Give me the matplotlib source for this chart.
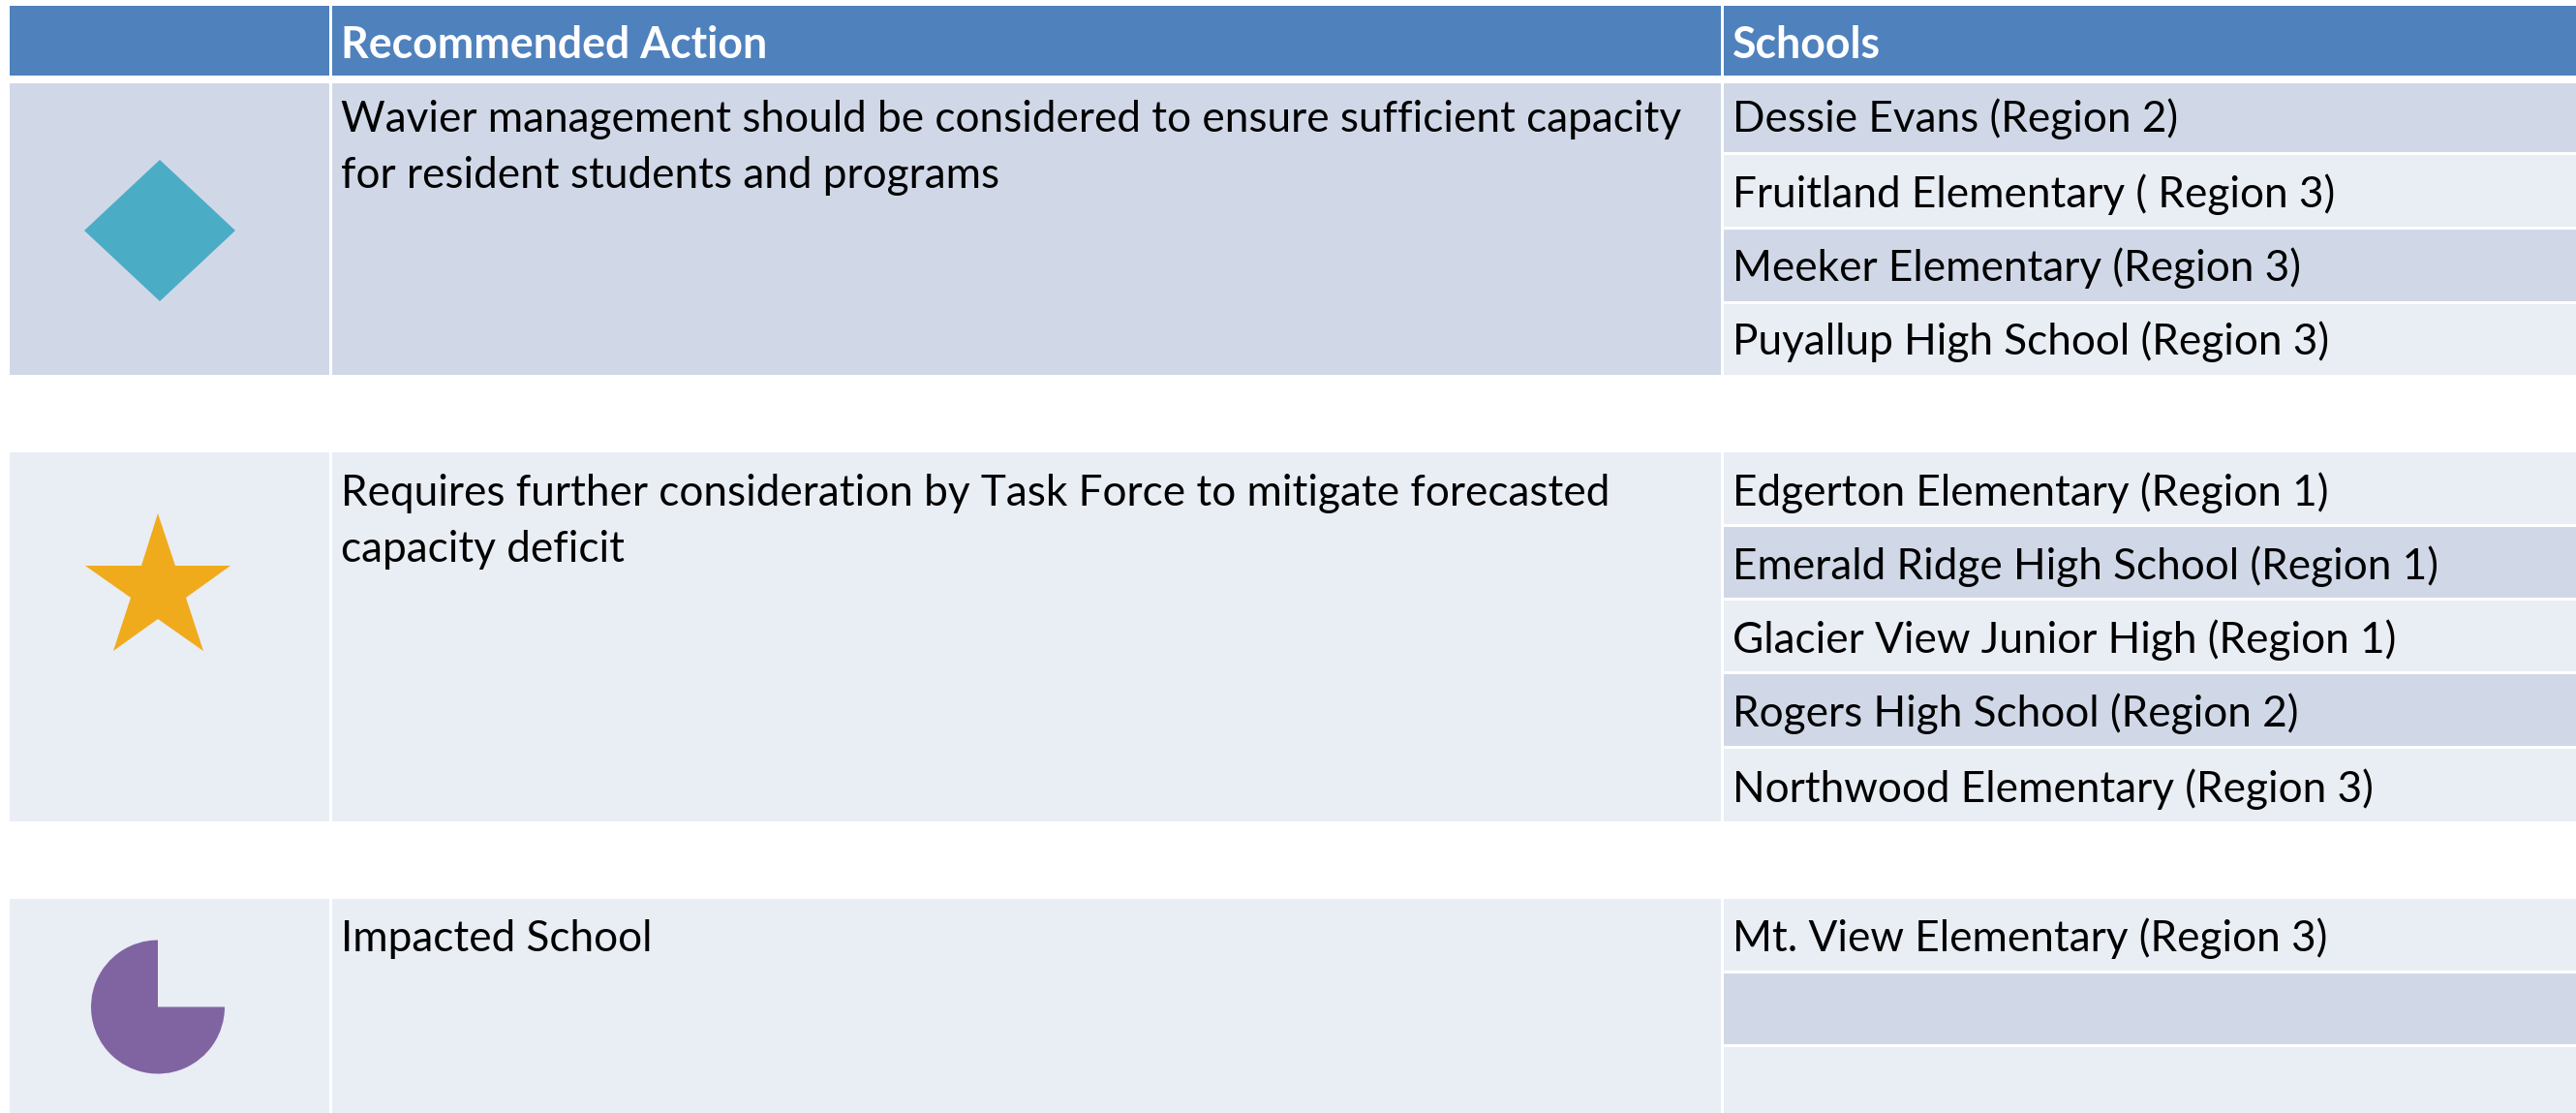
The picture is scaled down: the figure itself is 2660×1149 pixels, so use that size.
import matplotlib
matplotlib.use("Agg")
import matplotlib.pyplot as plt
from matplotlib.patches import Rectangle, Polygon, Wedge

# ---- content ----
headers = ["", "Recommended Action", "Schools"]
actions = [
    ["Wavier management should be considered to ensure sufficient capacity",
     "for resident students and programs"],
    ["Requires further consideration by Task Force to mitigate forecasted",
     "capacity deficit"],
    ["Impacted School"],
]
schools_a = ["Dessie Evans (Region 2)", "Fruitland Elementary ( Region 3)",
             "Meeker Elementary (Region 3)", "Puyallup High School (Region 3)"]
schools_b = ["Edgerton Elementary (Region 1)", "Emerald Ridge High School (Region 1)",
             "Glacier View Junior High (Region 1)", "Rogers High School (Region 2)",
             "Northwood Elementary (Region 3)"]
schools_c = ["Mt. View Elementary (Region 3)", "", ""]

HEADER = "#4F81BD"; DARK = "#D0D8E8"; LIGHT = "#E9EDF4"
W, H = 2660, 1149
FS = 31.8
DY = 1.5

plt.rcParams["font.family"] = ["Lato", "DejaVu Sans"]
fig = plt.figure(figsize=(W / 100, H / 100), dpi=100, facecolor="white")
ax = fig.add_axes([0, 0, 1, 1])
ax.set_xlim(0, W); ax.set_ylim(H, 0); ax.axis("off")

X0, X1, X2 = 10, 342.5, 1780

def rect(x0, x1, y0, y1, c):
    ax.add_patch(Rectangle((x0, y0), x1 - x0, y1 - y0, fc=c, ec="none", zorder=1))

# header
rect(X0, X1 - 3, 6, 78, HEADER)
rect(X1, X2 - 3, 6, 78, HEADER)
rect(X2, W, 6, 78, HEADER)
ax.text(X1 + 10, 58 + DY, headers[1], fontsize=FS + 0.3, fontweight="bold", color="white", va="baseline")
ax.text(X2 + 9, 58 + DY, headers[2], fontsize=FS + 0.3, fontweight="bold", color="white", va="baseline")

blocks = [
    (86, 387, DARK, actions[0], schools_a, [158, 235, 312],
     [DARK, LIGHT, DARK, LIGHT], [135, 212, 288, 365], [135, 193]),
    (467, 848, LIGHT, actions[1], schools_b, [542, 618, 694, 771],
     [LIGHT, DARK, LIGHT, DARK, LIGHT], [520, 596, 673, 749, 826], [520, 578]),
    (928, 1149, LIGHT, actions[2], schools_c, [1003, 1079.5],
     [LIGHT, DARK, LIGHT], [981, 1057, 1133], [981]),
]
for y0, y1, col, lines, schools, seps, fills, bases, lbases in blocks:
    rect(X0, X1 - 3, y0, y1, col)
    rect(X1, X2 - 3, y0, y1, col)
    edges = [y0] + seps + [y1]
    for i, name in enumerate(schools):
        top = edges[i] + (1.5 if i else 0)
        bot = edges[i + 1] - (1.5 if i < len(schools) - 1 else 0)
        rect(X2, W, top, bot, fills[i])
        if name:
            ax.text(X2 + 9, bases[i] + DY, name, fontsize=FS, color="black", va="baseline")
    for b, line in zip(lbases, lines):
        ax.text(X1 + 10, b + DY, line, fontsize=FS, color="black", va="baseline")

# markers
ax.add_patch(Polygon([(165, 165), (243, 238), (165, 311), (87, 238)], fc="#4BACC6", ec="none", zorder=2))
ax.add_patch(Polygon([(163, 530), (181, 584), (238, 584), (192, 617), (210, 672),
                      (163, 639), (117, 672), (135, 617), (88, 584), (146, 584)],
                     fc="#F0AB1C", ec="none", zorder=2))
# y axis is inverted: angles run clockwise on screen
ax.add_patch(Wedge((163, 1039.5), 69, 0, 270, fc="#8064A2", ec="none", zorder=2))

fig.savefig("out.png", dpi=100, facecolor="white")
